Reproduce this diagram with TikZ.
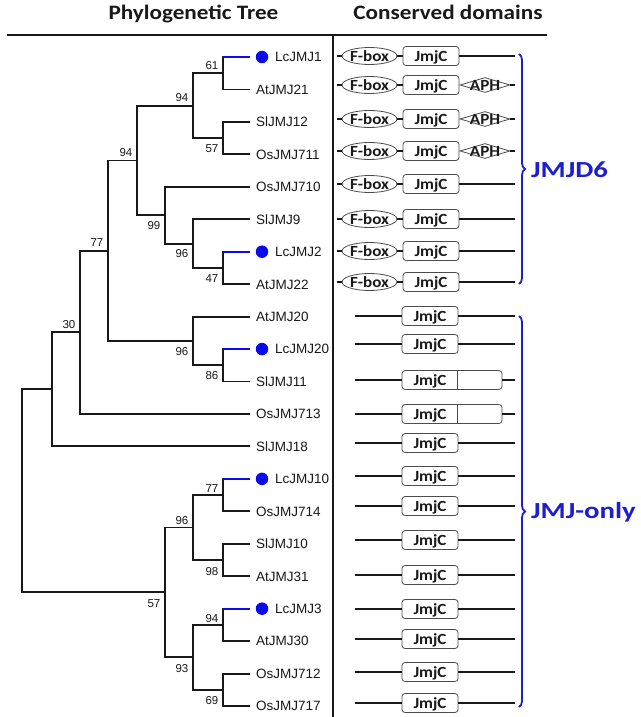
\documentclass[tikz,border=0pt]{standalone}
\usepackage{fontspec}
\usetikzlibrary{shapes.geometric,decorations.pathreplacing,calc}
\setmainfont{Liberation Sans}
\newfontfamily\hdrfont{Carlito}[FakeStretch=1.13]
\newfontfamily\domfont{Carlito}[FakeStretch=1.1]
\newfontfamily\grpfont{Carlito}[FakeStretch=1.25]
\definecolor{lcblue}{RGB}{10,10,235}
\definecolor{grpblue}{RGB}{30,30,205}
\definecolor{lnc}{RGB}{25,25,25}

\begin{document}
\begin{tikzpicture}[x=1pt,y=-1pt,
 br/.style={line width=1.9pt, lnc},
 bluebr/.style={line width=2pt, lcblue},
 leaf/.style={font=\fontsize{13.5}{14}\selectfont, anchor=west, inner sep=0pt, text height=9.7pt, text depth=0pt, lnc},
 bs/.style={font=\fontsize{11.5}{12}\selectfont, anchor=east, inner sep=0pt, text height=8.2pt, text depth=0pt, lnc},
 dot/.style={circle, fill=lcblue, inner sep=0pt, minimum size=12.5pt},
 dl/.style={line width=1.8pt, lnc},
 dfont/.style={font=\domfont\bfseries\fontsize{15.5}{16}\selectfont, text height=10pt, text depth=0pt, lnc},
 fbox/.style={dfont, ellipse, draw=black!70, line width=0.8pt, fill=white, minimum width=49pt, minimum height=17pt, inner sep=0pt},
 jbox/.style={dfont, rectangle, rounded corners=3pt, draw=black!70, line width=0.8pt, fill=white, minimum width=56pt, minimum height=19pt, inner sep=0pt},
 xbox/.style={rectangle, rounded corners=3pt, draw=black!70, line width=0.8pt, fill=white, minimum width=100pt, minimum height=19pt, inner sep=0pt},
 aph/.style={diamond, draw=black!70, line width=0.8pt, fill=white, minimum width=50pt, minimum height=15pt, inner sep=0pt},
 dtext/.style={dfont, inner sep=0pt},
 hdr/.style={font=\hdrfont\bfseries\fontsize{20.5}{22}\selectfont, anchor=base, lnc},
 grp/.style={font=\grpfont\bfseries\fontsize{23}{24}\selectfont, anchor=west, grpblue, inner sep=0pt},
 brc/.style={grpblue, line width=1.8pt, decorate, decoration={brace, amplitude=6pt}}
]
\useasboundingbox (0,0) rectangle (640,717);
\fill[white] (0,0) rectangle (640,717);

% headers
\node[hdr] (hp) at (193.5,20) {Phylogenetic Tree};
\node[hdr] (hc) at (448,20) {Conserved domains};
\coordinate (h1) at (7,35);
\coordinate (h2) at (547,35);
\draw[line width=2pt, lnc] (h1) -- (h2);
\coordinate (v1) at (333,35);
\coordinate (v2) at (333,717);
\draw[line width=1.2pt, lnc] (v1) -- (v2);

% leaves
\foreach \i in {0,...,20} {
  \coordinate (L\i) at (250,{57+32.45*\i});
}
\foreach \i/\nm in {1/AtJMJ21,2/SlJMJ12,3/OsJMJ711,4/OsJMJ710,5/SlJMJ9,7/AtJMJ22,8/AtJMJ20,10/SlJMJ11,11/OsJMJ713,12/SlJMJ18,14/OsJMJ714,15/SlJMJ10,16/AtJMJ31,18/AtJMJ30,19/OsJMJ712,20/OsJMJ717} {
  \node[leaf] (t\i) at ($(L\i)+(6,0)$) {\nm};
}
\foreach \i/\nm in {0/LcJMJ1,6/LcJMJ2,9/LcJMJ20,13/LcJMJ10,17/LcJMJ3} {
  \node[dot] (d\i) at ($(L\i)+(12,0)$) {};
  \node[leaf] (t\i) at ($(L\i)+(25,0)$) {\nm};
}

% internal nodes
\coordinate (n61) at (223,73.2);
\coordinate (n57) at (223,138.1);
\coordinate (n94a) at (193,105.7);
\coordinate (n47) at (223,267.9);
\coordinate (n96a) at (193,243.6);
\coordinate (n99) at (165,215.2);
\coordinate (n94b) at (137,160.5);
\coordinate (n86) at (223,365.3);
\coordinate (n96b) at (193,341);
\coordinate (n77) at (108,250.7);
\coordinate (n30) at (80,332.3);
\coordinate (n52) at (52,389.4);
\coordinate (n77b) at (223,495.1);
\coordinate (n98) at (223,560);
\coordinate (n96c) at (193,527.5);
\coordinate (n94c) at (223,624.9);
\coordinate (n69) at (223,689.8);
\coordinate (n93) at (193,657.3);
\coordinate (n57b) at (165,592.4);
\coordinate (root) at (22,490.9);

% tree edges
\draw[br] (n61) |- (L0);  \draw[br] (n61) |- (L1);
\draw[br] (n57) |- (L2);  \draw[br] (n57) |- (L3);
\draw[br] (n94a) |- (n61); \draw[br] (n94a) |- (n57);
\draw[br] (n47) |- (L6);  \draw[br] (n47) |- (L7);
\draw[br] (n96a) |- (L5); \draw[br] (n96a) |- (n47);
\draw[br] (n99) |- (L4);  \draw[br] (n99) |- (n96a);
\draw[br] (n94b) |- (n94a); \draw[br] (n94b) |- (n99);
\draw[br] (n86) |- (L9);  \draw[br] (n86) |- (L10);
\draw[br] (n96b) |- (L8); \draw[br] (n96b) |- (n86);
\draw[br] (n77) |- (n94b); \draw[br] (n77) |- (n96b);
\draw[br] (n30) |- (n77); \draw[br] (n30) |- (L11);
\draw[br] (n52) |- (n30); \draw[br] (n52) |- (L12);
\draw[br] (n77b) |- (L13); \draw[br] (n77b) |- (L14);
\draw[br] (n98) |- (L15); \draw[br] (n98) |- (L16);
\draw[br] (n96c) |- (n77b); \draw[br] (n96c) |- (n98);
\draw[br] (n94c) |- (L17); \draw[br] (n94c) |- (L18);
\draw[br] (n69) |- (L19); \draw[br] (n69) |- (L20);
\draw[br] (n93) |- (n94c); \draw[br] (n93) |- (n69);
\draw[br] (n57b) |- (n96c); \draw[br] (n57b) |- (n93);
\draw[br] (root) |- (n52); \draw[br] (root) |- (n57b);

% blue branches
\draw[bluebr] (n61 |- L0) -- (L0);
\draw[bluebr] (n47 |- L6) -- (L6);
\draw[bluebr] (n86 |- L9) -- (L9);
\draw[bluebr] (n77b |- L13) -- (L13);
\draw[bluebr] (n94c |- L17) -- (L17);

% bootstrap values
\node[bs] (b61) at ($(n61)+(-4.5,-8)$) {61};
\node[bs] (b57) at ($(n57)+(-4.5,10)$) {57};
\node[bs] (b94a) at ($(n94a)+(-4.5,-8)$) {94};
\node[bs] (b47) at ($(n47)+(-4.5,10)$) {47};
\node[bs] (b96a) at ($(n96a)+(-4.5,10)$) {96};
\node[bs] (b99) at ($(n99)+(-4.5,10)$) {99};
\node[bs] (b94b) at ($(n94b)+(-4.5,-8)$) {94};
\node[bs] (b86) at ($(n86)+(-4.5,10)$) {86};
\node[bs] (b96b) at ($(n96b)+(-4.5,10)$) {96};
\node[bs] (b77) at ($(n77)+(-4.5,-8)$) {77};
\node[bs] (b30) at ($(n30)+(-4.5,-8)$) {30};
\node[bs] (b77b) at ($(n77b)+(-4.5,-7)$) {77};
\node[bs] (b98) at ($(n98)+(-4.5,11)$) {98};
\node[bs] (b96c) at ($(n96c)+(-4.5,-7)$) {96};
\node[bs] (b94c) at ($(n94c)+(-4.5,-7)$) {94};
\node[bs] (b69) at ($(n69)+(-4.5,11)$) {69};
\node[bs] (b93) at ($(n93)+(-4.5,11)$) {93};
\node[bs] (b57b) at ($(n57b)+(-4.5,11)$) {57};

% JMJD6 domain rows
\foreach \r/\y in {0/56,1/85,2/119,3/151,4/184,5/219,6/251,7/282} {
  \coordinate (s\r) at (337,\y);
  \coordinate (e\r) at (515,\y);
  \node[fbox] (f\r) at (369.5,\y) {F-box};
  \node[jbox] (j\r) at (431,\y) {JmjC};
  \draw[dl] (s\r) -- (f\r);
  \draw[dl] (f\r) -- (j\r);
}
\foreach \r in {0,4,5,6,7} { \draw[dl] (j\r) -- (e\r); }
\foreach \r/\y in {1/85,2/119,3/151} {
  \node[aph] (a\r) at (485,\y) {};
  \node[dtext] (at\r) at (a\r) {APH};
  \draw[dl] (a\r) -- (e\r);
}

% JMJ-only domain rows
\foreach \r/\y in {8/316,9/344,12/443,13/476,14/506,15/540,16/575,17/609,18/639,19/672,20/703} {
  \coordinate (s\r) at (355,\y);
  \coordinate (e\r) at (515,\y);
  \node[jbox] (j\r) at (430,\y) {JmjC};
  \draw[dl] (s\r) -- (j\r);
  \draw[dl] (j\r) -- (e\r);
}
\foreach \r/\y in {10/380,11/414} {
  \coordinate (s\r) at (355,\y);
  \coordinate (e\r) at (515,\y);
  \node[xbox] (j\r) at (452,\y) {};
  \node[dtext] (jt\r) at (430,\y) {JmjC};
  \draw[black!70, line width=0.8pt] ($(j\r.north west)+(56,0)$) -- ($(j\r.south west)+(56,0)$);
  \draw[dl] (s\r) -- (j\r);
  \draw[dl] (j\r) -- (e\r);
}

% braces and group labels
\coordinate (b1s) at (519,54);
\coordinate (b1e) at (519,284);
\coordinate (b2s) at (519,316);
\coordinate (b2e) at (519,707);
\draw[brc] (b1s) -- (b1e);
\draw[brc] (b2s) -- (b2e);
\node[grp] (g1) at (531,170) {JMJD6};
\node[grp] (g2) at (531,512) {JMJ-only};
\end{tikzpicture}
\end{document}
